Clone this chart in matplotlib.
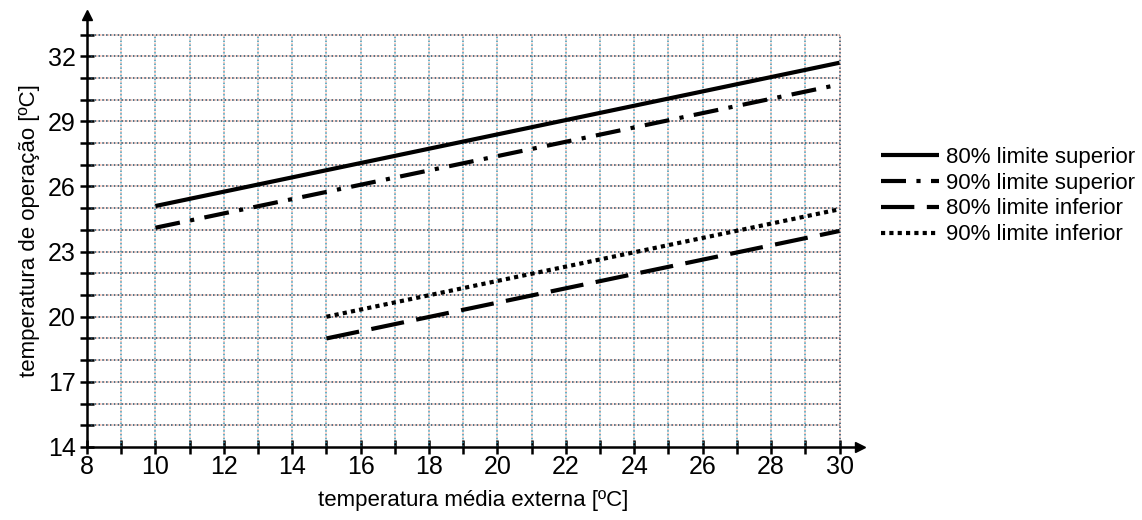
import numpy as np
import matplotlib
matplotlib.use('Agg')
import matplotlib.pyplot as plt

# data
x_sup = [10, 30]
y_sup80 = [25.1, 31.7]
y_sup90 = [24.1, 30.7]
x_inf = [15, 30]
y_inf80 = [19.0, 23.95]
y_inf90 = [20.0, 24.95]

x_ticks = list(range(8, 31, 2))
y_ticks = list(range(14, 33, 3))
x_grid = list(range(9, 31))
y_grid = list(range(15, 34))

labels = ['80% limite superior', '90% limite superior',
          '80% limite inferior', '90% limite inferior']

plt.rcParams['font.family'] = ['Liberation Sans', 'DejaVu Sans']

fig = plt.figure(figsize=(11.42, 5.2), dpi=100)
ax = fig.add_axes([0.0762, 0.1404, 0.6769, 0.8308])
ax.set_xlim(8, 30.6)
ax.set_ylim(14, 33.9)

# grid (limited to x<=30, y<=33)
ax.hlines(y_grid, 8, 30, colors='#f5b8aa', linestyles=(1.5, (1, 1.5)), lw=1.1, zorder=1)
ax.vlines(x_grid, 14, 33, colors='#f5b8aa', linestyles=(1.5, (1, 1.5)), lw=1.1, zorder=1)
ax.hlines(y_grid, 8, 30, colors='#23465e', linestyles=(0, (1, 1.5)), lw=1.1, zorder=2)
ax.vlines(x_grid[:-1], 14, 33, colors='#3f98b5', linestyles=(0, (1, 1.5)), lw=1.1, zorder=2)
ax.vlines([30], 14, 33, colors='#23465e', linestyles=(0, (1, 1.5)), lw=1.1, zorder=2)

l1, = ax.plot(x_sup, y_sup80, color='black', lw=3, solid_capstyle='butt', zorder=4)
l2, = ax.plot(x_sup, y_sup90, color='black', lw=3, linestyle=(0, (6, 2.5, 1, 2.5)),
              dash_capstyle='butt', zorder=4)
l3, = ax.plot(x_inf, y_inf80, color='black', lw=3, linestyle=(0, (8, 3)),
              dash_capstyle='butt', zorder=4)
l4, = ax.plot(x_inf, y_inf90, color='black', lw=3, linestyle=(0, (1, 1)),
              dash_capstyle='butt', zorder=4)

# axes with arrows
for s in ['top', 'right']:
    ax.spines[s].set_visible(False)
for s in ['left', 'bottom']:
    ax.spines[s].set_linewidth(1.8)
    ax.spines[s].set_zorder(5)
ax.plot(1, 0, '>', color='black', ms=7, transform=ax.transAxes, clip_on=False, zorder=6)
ax.plot(0, 1, '^', color='black', ms=7, transform=ax.transAxes, clip_on=False, zorder=6)

ax.set_xticks(x_ticks)
ax.set_xticks(list(range(8, 31)), minor=True)
ax.set_yticks(y_ticks)
ax.set_yticks(list(range(14, 34)), minor=True)
ax.tick_params(which='both', direction='inout', width=1.8, length=10, labelsize=18)
ax.tick_params(axis='x', which='major', pad=1)
ax.tick_params(axis='y', which='major', pad=3)

ax.set_xlabel('temperatura média externa [ºC]', fontsize=16, labelpad=8)
ax.set_ylabel('temperatura de operação [ºC]', fontsize=16, labelpad=6)

fig.legend([l1, l2, l3, l4], labels, loc='upper left', bbox_to_anchor=(0.764, 0.735),
           frameon=False, fontsize=16, handlelength=2.6, handletextpad=0.3,
           labelspacing=0.22, borderaxespad=0)

fig.savefig('out.png', dpi=100)
